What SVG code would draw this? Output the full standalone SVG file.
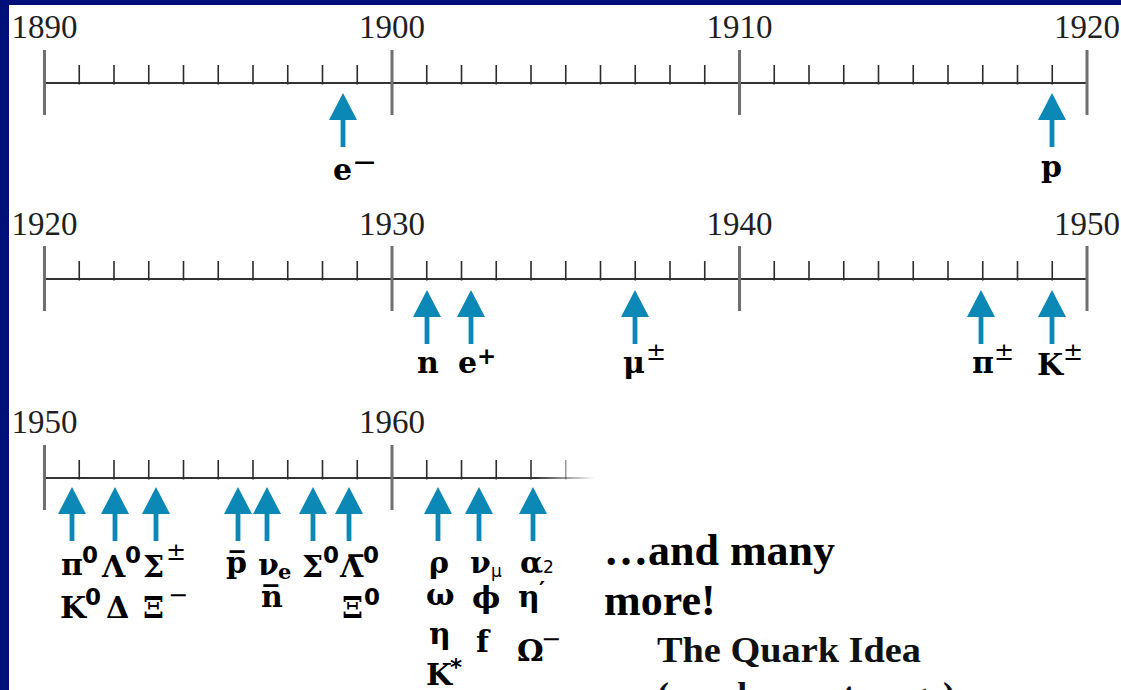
<svg xmlns="http://www.w3.org/2000/svg" width="1121" height="690" viewBox="0 0 1121 690">
<defs>
<style>
.yr{font-family:"Liberation Serif",serif;font-size:33px;fill:#1f1f1f;text-anchor:middle}
.lb{font-family:"DejaVu Serif",serif;font-weight:bold;font-size:30px;fill:#000}
.lbs{font-family:"DejaVu Serif",serif;font-weight:bold;font-size:21px}
.sp{font-family:"DejaVu Sans",sans-serif;font-weight:bold;font-size:23px}
.pm{font-family:"DejaVu Sans",sans-serif;font-weight:normal;font-size:24px}
.mn{font-family:"DejaVu Sans",sans-serif;font-weight:normal;font-size:30px}
.mn2{font-family:"DejaVu Sans",sans-serif;font-weight:normal;font-size:24px}
.sb{font-family:"DejaVu Sans",sans-serif;font-weight:normal;font-size:17px}
.big{font-family:"Liberation Serif",serif;font-weight:bold;font-size:44px;fill:#000}
.q{font-family:"Liberation Serif",serif;font-weight:bold;font-size:36px;fill:#111}
.ax{stroke:#333;stroke-width:2;fill:none}
.mj{stroke:#6f6f6f;stroke-width:3;fill:none}
.mi{stroke:#2b2b2b;stroke-width:1.6;fill:none}
.ar{fill:#0b88b6}
</style>
<path id="arr" d="M0,0 L14,27 L2.4,27 L2.4,54 L-2.4,54 L-2.4,27 L-14,27 Z"/>
<linearGradient id="fade" gradientUnits="userSpaceOnUse" x1="535" y1="0" x2="595" y2="0">
<stop offset="0" stop-color="#333" stop-opacity="1"/>
<stop offset="1" stop-color="#333" stop-opacity="0"/>
</linearGradient>
<g id="ticks30">
<path class="ax" d="M44.5,0H1087"/>
<path class="mi" d="M79.25,-18V1.5M114,-18V1.5M148.75,-18V1.5M183.5,-18V1.5M218.25,-18V1.5M253,-18V1.5M287.75,-18V1.5M322.5,-18V1.5M357.25,-18V1.5M426.75,-18V1.5M461.5,-18V1.5M496.25,-18V1.5M531,-18V1.5M565.75,-18V1.5M600.5,-18V1.5M635.25,-18V1.5M670,-18V1.5M704.75,-18V1.5M774.25,-18V1.5M809,-18V1.5M843.75,-18V1.5M878.5,-18V1.5M913.25,-18V1.5M948,-18V1.5M982.75,-18V1.5M1017.5,-18V1.5M1052.25,-18V1.5"/>
<path class="mj" d="M44.5,-33V32M392,-33V32M739.5,-33V32M1087,-33V32"/>
</g>
</defs>

<rect width="1121" height="690" fill="#001078"/>
<rect x="9" y="5" width="1112" height="685" fill="#ffffff"/>

<g id="timeline-1890-1920">
<use href="#ticks30" y="83"/>
<text class="yr" x="44.5" y="38">1890</text>
<text class="yr" x="392" y="38">1900</text>
<text class="yr" x="739.5" y="38">1910</text>
<text class="yr" x="1087" y="38">1920</text>
</g>

<g id="timeline-1920-1950">
<use href="#ticks30" y="279"/>
<text class="yr" x="44.5" y="235">1920</text>
<text class="yr" x="392" y="235">1930</text>
<text class="yr" x="739.5" y="235">1940</text>
<text class="yr" x="1087" y="235">1950</text>
</g>

<g id="timeline-1950-1965">
<path d="M44.5,478H600" stroke="url(#fade)" stroke-width="2" fill="none"/>
<path class="mi" d="M79.25,460V479.5M114,460V479.5M148.75,460V479.5M183.5,460V479.5M218.25,460V479.5M253,460V479.5M287.75,460V479.5M322.5,460V479.5M357.25,460V479.5M426.75,460V479.5M461.5,460V479.5M496.25,460V479.5"/>
<path d="M531,460V479.5M565.75,460V479.5" stroke="url(#fade)" stroke-width="1.6" fill="none"/>
<path class="mj" d="M44.5,445V510M392,445V510"/>
<text class="yr" x="44.5" y="433">1950</text>
<text class="yr" x="392" y="433">1960</text>
</g>

<g id="arrows" class="ar">
<use href="#arr" x="343" y="93"/>
<use href="#arr" x="1052" y="93"/>
<use href="#arr" x="427" y="290"/>
<use href="#arr" x="471" y="290"/>
<use href="#arr" x="635" y="290"/>
<use href="#arr" x="981" y="290"/>
<use href="#arr" x="1052" y="290"/>
<use href="#arr" x="72" y="487"/>
<use href="#arr" x="115" y="487"/>
<use href="#arr" x="156" y="487"/>
<use href="#arr" x="238" y="487"/>
<use href="#arr" x="267" y="487"/>
<use href="#arr" x="313" y="487"/>
<use href="#arr" x="349" y="487"/>
<use href="#arr" x="438" y="487"/>
<use href="#arr" x="479" y="487"/>
<use href="#arr" x="533" y="487"/>
</g>

<g id="e-minus"><text class="lb" x="333" y="180">e<tspan class="mn" x="352" y="172">−</tspan></text></g>
<g id="proton"><text class="lb" x="1041" y="177">p</text></g>

<g id="neutron"><text class="lb" x="417" y="373">n</text></g>
<g id="positron"><text class="lb" x="458" y="373">e<tspan class="sp" x="477" y="364">+</tspan></text></g>
<g id="muon"><text class="lb" x="623" y="373">μ<tspan class="pm" x="646" y="360">±</tspan></text></g>
<g id="pion"><text class="lb" x="972" y="373">π<tspan class="pm" x="994" y="360">±</tspan></text></g>
<g id="kaon"><text class="lb" x="1037" y="375">K<tspan class="pm" x="1063" y="360">±</tspan></text></g>

<g id="pi0"><text class="lb" x="61" y="575">π<tspan class="sp" x="82" y="563">0</tspan></text></g>
<g id="lambda0"><text class="lb" x="102" y="577">Λ<tspan class="sp" x="125" y="563">0</tspan></text></g>
<g id="sigma-pm"><text class="lb" x="143" y="577">Σ<tspan class="pm" x="166" y="560">±</tspan></text></g>
<g id="k0"><text class="lb" x="60" y="618">K<tspan class="sp" x="85" y="605">0</tspan></text></g>
<g id="delta"><text class="lb" x="106" y="618">Δ</text></g>
<g id="xi-minus"><text class="lb" x="143" y="618">Ξ<tspan class="mn2" x="168" y="603">−</tspan></text></g>
<g id="antiproton"><text class="lb" x="226" y="573">p&#x305;</text></g>
<g id="nu-e"><text class="lb" x="258" y="575">ν<tspan class="lbs" x="278" y="579">e</tspan></text></g>
<g id="antineutron"><text class="lb" x="261" y="607">n&#x305;</text></g>
<g id="sigma0"><text class="lb" x="302" y="577">Σ<tspan class="sp" x="323" y="563">0</tspan></text></g>
<g id="antilambda0"><text class="lb" x="340" y="577">Λ&#x305;<tspan class="sp" x="363" y="563">0</tspan></text></g>
<g id="xi0"><text class="lb" x="342" y="618">Ξ<tspan class="sp" x="364" y="605">0</tspan></text></g>
<g id="rho"><text class="lb" x="429" y="573">ρ</text></g>
<g id="omega"><text class="lb" x="426" y="605">ω</text></g>
<g id="eta"><text class="lb" x="429" y="644">η</text></g>
<g id="kstar"><text class="lb" x="426" y="685">K<tspan class="sp" x="450" y="675">*</tspan></text></g>
<g id="nu-mu"><text class="lb" x="470" y="573">ν<tspan class="sb" x="491" y="577">μ</tspan></text></g>
<g id="phi"><text class="lb" x="472" y="608">ϕ</text></g>
<g id="f"><text class="lb" x="476" y="652">f</text></g>
<g id="a2"><text class="lb" x="520" y="573">α<tspan class="sb" x="543" y="573">2</tspan></text></g>
<g id="eta-prime"><text class="lb" x="518" y="607">η<tspan class="sp" x="539" y="598">′</tspan></text></g>
<g id="omega-minus"><text class="lb" x="517" y="661">Ω<tspan class="mn2" x="541" y="647">−</tspan></text></g>

<g id="note">
<text class="big" x="604" y="565">…and many</text>
<text class="big" x="604" y="615">more!</text>
<text class="q" x="657" y="662" textLength="264" lengthAdjust="spacingAndGlyphs">The Quark Idea</text>
<text class="q" x="657" y="707">(up, down, strange)</text>
</g>
</svg>
